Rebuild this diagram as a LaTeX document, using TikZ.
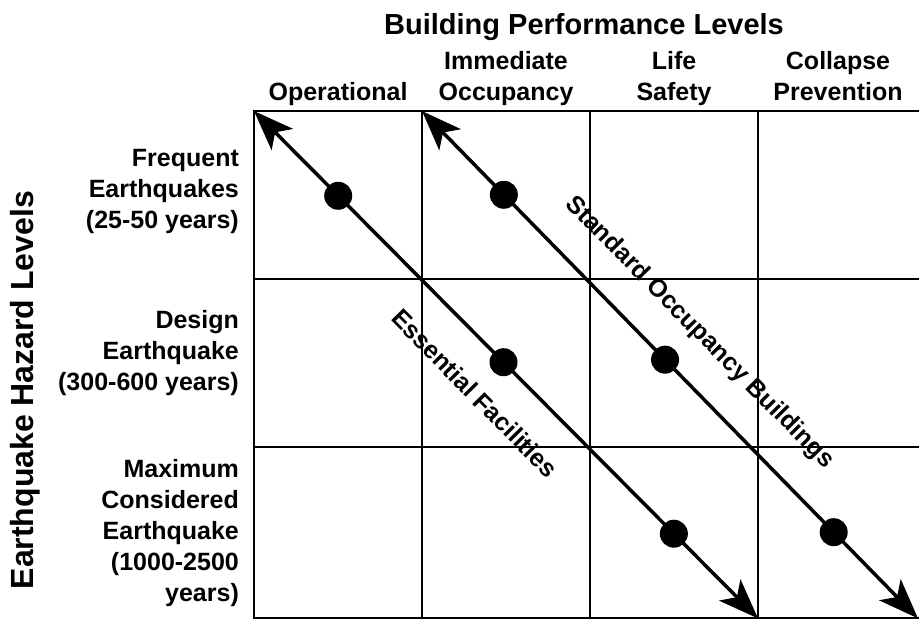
\documentclass[tikz,border=0pt]{standalone}
\usepackage{fontspec}
\setmainfont{Liberation Sans}
\usetikzlibrary{arrows.meta}
\usetikzlibrary{positioning}
\tikzset{gridline/.style={line width=2pt, line join=miter}}
\tikzset{perfline/.style={line width=3.5pt, {Stealth[length=40pt, width=30pt, inset=10pt]}-{Stealth[length=40pt, width=30pt, inset=10pt]}}}
\tikzset{eqdot/.style={circle, fill=black, inner sep=0pt, minimum size=28pt}}
\tikzset{lvltext/.style={font=\bfseries\fontsize{25}{31}\selectfont, inner sep=0pt}}
\tikzset{hdrtext/.style={lvltext, align=center, anchor=south, text depth=6pt}}
\tikzset{rowtext/.style={lvltext, align=right, anchor=east}}

\begin{document}
\begin{tikzpicture}[x=168pt, y=-168pt]
		\useasboundingbox (-1.512,-0.661) rectangle (3.958,3.042);
		\draw[gridline] (3.958,0) -- (0,0) -- (0,3.02) -- (3.958,3.02);
		\foreach \x in {1,2,3} \draw[gridline] (\x,0) -- (\x,3.02);
		\foreach \y in {1,2} \draw[gridline] (0,\y) -- (3.958,\y);
		\node[lvltext, font=\bfseries\fontsize{29}{35}\selectfont, anchor=base] (bpl) at (1.964,-0.458) {Building Performance Levels};
		\node[hdrtext] (op) at (0.5,-0.024) {Operational};
		\node[hdrtext] (io) at (1.5,-0.024) {Immediate\\Occupancy};
		\node[hdrtext] (ls) at (2.5,-0.024) {Life\\Safety};
		\node[hdrtext] (cp) at (3.476,-0.024) {Collapse\\Prevention};
		\node[lvltext, font=\bfseries\fontsize{32}{38}\selectfont, rotate=90] (ehl) at (-1.363,1.661) {Earthquake Hazard Levels};
		\node[rowtext] (fe) at (-0.089,0.48) {Frequent\\Earthquakes\\(25-50 years)};
		\node[rowtext] (de) at (-0.089,1.44) {Design\\Earthquake\\(300-600 years)};
		\node[rowtext] (mce) at (-0.089,2.51) {Maximum\\Considered\\Earthquake\\(1000-2500\\years)};
		\coordinate (ef top) at (0,0);
		\coordinate (ef bot) at (3,3.02);
		\coordinate (so top) at (1,0);
		\coordinate (so bot) at (3.952,3.02);
		\draw[perfline] (ef top) -- (ef bot)
			node[eqdot, pos=0.167] (ef1) {}
			node[eqdot, pos=0.495] (ef2) {}
			node[eqdot, pos=0.833] (ef3) {};
		\draw[perfline] (so top) -- (so bot)
			node[eqdot, pos=0.165] (so1) {}
			node[eqdot, pos=0.49] (so2) {}
			node[eqdot, pos=0.83] (so3) {};
		\node[lvltext, rotate=-45.4] (eflab) at (1.315,1.68) {Essential Facilities};
		\node[lvltext, rotate=-45.4] (solab) at (2.65,1.32) {Standard Occupancy Buildings};
\end{tikzpicture}
\end{document}
